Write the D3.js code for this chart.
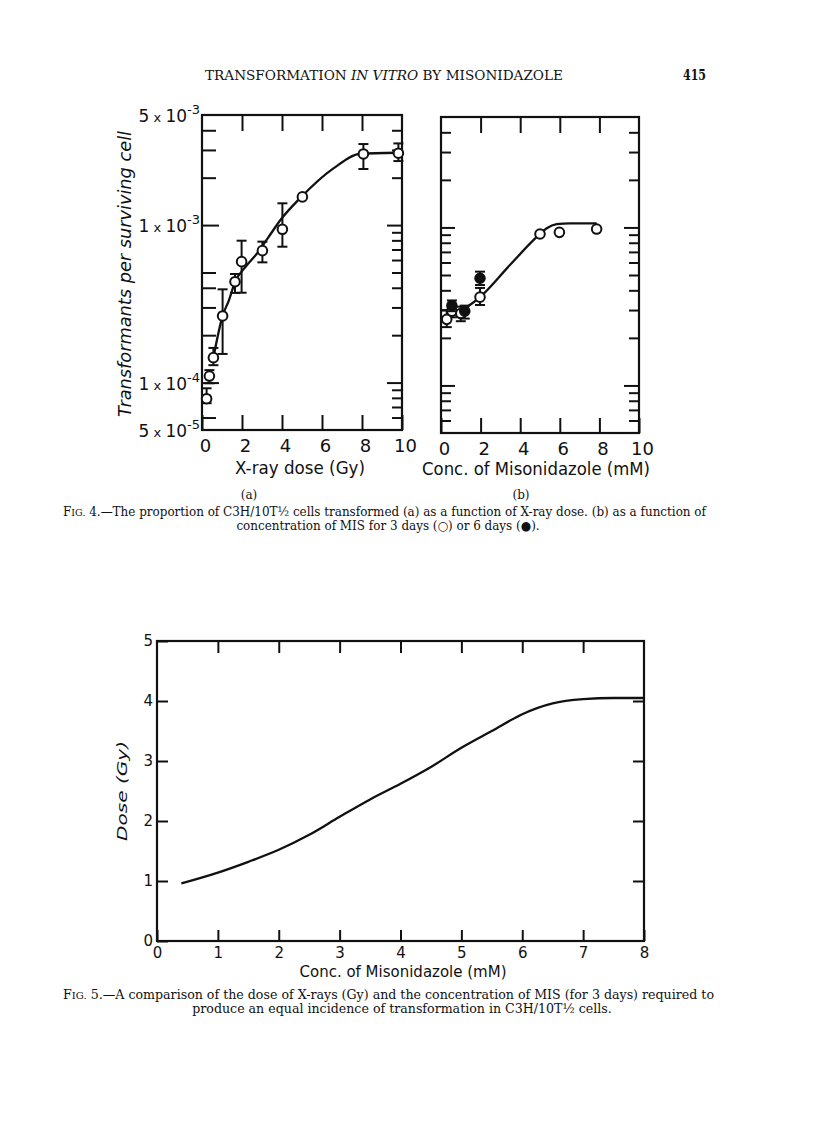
<!DOCTYPE html>
<html>
<head>
<meta charset="utf-8">
<script src="https://cdn.jsdelivr.net/npm/d3@7"></script>
<style>
  html, body { margin: 0; padding: 0; background: #fff; }
  svg { display: block; }
</style>
</head>
<body>
<svg id="page" width="816" height="1136"></svg>
<script>
// Page 415: Fig. 4 (a, b) log-scale transformation plots and Fig. 5 dose equivalence curve

// ---- Fig. 4 tick values and labels ----
const doseTickValues = [0, 2, 4, 6, 8, 10];
const innerDoseTicks = [2, 4, 6, 8];
const logLabelValues = [5e-3, 1e-3, 1e-4, 5e-5];
const logLabelMantissa = ["5", "1", "1", "5"];
const logLabelExponent = ["-3", "-3", "-4", "-5"];
const leftMinorA = [6e-5, 2e-4, 3e-4, 4e-4, 5e-4, 2e-3, 3e-3, 4e-3];
const decadeTicks = [1e-4, 1e-3];

// ---- Fig. 4a: X-ray dose (Gy) vs transformants per surviving cell ----
const xrayDose = [0.23, 0.37, 0.57, 1.03, 1.65, 1.98, 3.02, 4.02, 5.02, 8.07, 9.82];
const xrayValue = [7.9e-5, 1.10e-4, 1.44e-4, 2.65e-4, 4.37e-4, 5.86e-4, 6.88e-4, 9.4e-4, 1.51e-3, 2.83e-3, 2.86e-3];
const xrayLow = [7.4e-5, 9.9e-5, 1.29e-4, 1.52e-4, 3.71e-4, 3.72e-4, 5.8e-4, 7.29e-4, null, 2.27e-3, 2.55e-3];
const xrayHigh = [9.2e-5, 1.2e-4, 1.66e-4, 3.91e-4, 4.89e-4, 7.96e-4, 7.85e-4, 1.375e-3, null, 3.27e-3, 3.30e-3];
const xrayFitDose = [0.57, 1.03, 1.35, 1.65, 2.18, 2.75, 3.3, 3.98, 4.9, 6.57, 7.9, 9.73];
const xrayFitValue = [1.44e-4, 2.65e-4, 3.34e-4, 4.35e-4, 5.44e-4, 6.6e-4, 8.3e-4, 1.10e-3, 1.48e-3, 2.29e-3, 2.83e-3, 2.88e-3];

// ---- Fig. 4b: misonidazole (mM), 3 days (open) and 6 days (filled) ----
const mis3Conc = [0.29, 0.55, 1.0, 1.97, 5.0, 5.98, 7.86];
const mis3Value = [2.62e-4, 2.95e-4, 2.85e-4, 3.62e-4, 9.09e-4, 9.31e-4, 9.77e-4];
const mis3Low = [2.34e-4, 2.7e-4, 2.55e-4, 3.23e-4, null, null, null];
const mis3High = [3.0e-4, 3.2e-4, 3.15e-4, 4.14e-4, null, null, null];
const mis6Conc = [0.55, 1.2, 1.97];
const mis6Value = [3.2e-4, 2.95e-4, 4.77e-4];
const mis6Low = [2.95e-4, 2.65e-4, 4.32e-4];
const mis6High = [3.45e-4, 3.2e-4, 5.25e-4];
const misFitConc = [0.29, 1.97, 3.48, 5.0, 5.34, 5.84, 6.5, 7.86];
const misFitValue = [2.62e-4, 3.62e-4, 5.78e-4, 9.09e-4, 9.88e-4, 1.05e-3, 1.062e-3, 1.062e-3];

// ---- Fig. 5: equal-transformation dose vs MIS concentration ----
const fig5XTicks = [0, 1, 2, 3, 4, 5, 6, 7, 8];
const fig5YTicks = [0, 1, 2, 3, 4, 5];
const fig5Conc = [0.4, 1, 1.5, 2, 2.5, 3, 3.5, 4, 4.5, 5, 5.5, 6, 6.5, 7, 7.5, 8];
const fig5Dose = [0.96, 1.14, 1.32, 1.52, 1.77, 2.07, 2.36, 2.62, 2.9, 3.22, 3.5, 3.78, 3.96, 4.03, 4.05, 4.05];

const ink = "#111";
const sans = "'DejaVu Sans', sans-serif";
const serif = "'DejaVu Serif', serif";

const svg = d3.select("#page");

// scales
const xA = d3.scaleLinear().domain([0, 10]).range([202, 402]);
const yA = d3.scaleLog().domain([5e-5, 5e-3]).range([430, 115]);
const xB = d3.scaleLinear().domain([0, 10]).range([441, 639]);
const yB = d3.scaleLog().domain([5e-5, 5e-3]).range([433, 117]);
const x5 = d3.scaleLinear().domain([0, 8]).range([157, 644]);
const y5 = d3.scaleLinear().domain([0, 5]).range([941, 641]);

const isDecade = (v) => Math.abs(Math.log10(v) - Math.round(Math.log10(v))) < 1e-6;

// common axis cleanup
function styleAxis(g, width) {
  g.select(".domain").remove();
  g.selectAll(".tick line").attr("stroke", ink).attr("stroke-width", width || 2);
  g.selectAll(".tick text").attr("fill", ink).attr("font-family", sans);
}

function frame(x, y) {
  const [x0, x1] = x.range();
  const [y0, y1] = y.range();
  svg.append("rect")
    .attr("x", x0).attr("y", y1)
    .attr("width", x1 - x0).attr("height", y0 - y1)
    .attr("fill", "none").attr("stroke", ink).attr("stroke-width", 2.2);
}

// log panel ticks (inward), minor vs decade ticks
function logPanel(x, y, leftMinor, leftMinorLen, leftMajorLen) {
  const [x0, x1] = x.range();
  const [y0, y1] = y.range();
  const inner = y.ticks().filter((v) => v > 5.01e-5 && v < 4.99e-3);
  const minors = inner.filter((v) => !isDecade(v));

  frame(x, y);

  // bottom ticks + labels
  svg.append("g")
    .attr("transform", `translate(0,${y0})`)
    .call(d3.axisBottom(x).tickValues(doseTickValues).tickSizeInner(-15).tickSizeOuter(0).tickPadding(9))
    .call((g) => styleAxis(g))
    .call((g) => g.selectAll(".tick text").attr("font-size", 18).attr("dx", 3));
  // top ticks
  svg.append("g")
    .attr("transform", `translate(0,${y1})`)
    .call(d3.axisTop(x).tickValues(innerDoseTicks).tickSize(-16).tickFormat(""))
    .call((g) => styleAxis(g));

  // left ticks
  svg.append("g")
    .attr("transform", `translate(${x0},0)`)
    .call(d3.axisLeft(y).tickValues(leftMinor || minors).tickSize(-leftMinorLen).tickFormat(""))
    .call((g) => styleAxis(g));
  svg.append("g")
    .attr("transform", `translate(${x0},0)`)
    .call(d3.axisLeft(y).tickValues(decadeTicks).tickSize(-leftMajorLen).tickFormat(""))
    .call((g) => styleAxis(g));

  // right ticks
  svg.append("g")
    .attr("transform", `translate(${x1},0)`)
    .call(d3.axisRight(y).tickValues(minors).tickSize(-10).tickFormat(""))
    .call((g) => styleAxis(g));
  svg.append("g")
    .attr("transform", `translate(${x1},0)`)
    .call(d3.axisRight(y).tickValues(decadeTicks).tickSize(-15).tickFormat(""))
    .call((g) => styleAxis(g));
}

function fitLine(x, y, xs, ys) {
  svg.append("path")
    .datum(d3.zip(xs, ys))
    .attr("fill", "none")
    .attr("stroke", ink)
    .attr("stroke-width", 2.3)
    .attr("d", d3.line().x((d) => x(d[0])).y((d) => y(d[1])).curve(d3.curveMonotoneX));
}

function points(x, y, xs, vs, lows, highs, filled) {
  const rows = xs.map((c, i) => ({ c, v: vs[i], lo: lows[i], hi: highs[i] }));
  const bars = svg.append("g").attr("stroke", ink).attr("stroke-width", 2);
  rows.filter((d) => d.lo != null).forEach((d) => {
    const cx = x(d.c);
    bars.append("line").attr("x1", cx).attr("x2", cx).attr("y1", y(d.lo)).attr("y2", y(d.hi));
    bars.append("line").attr("x1", cx - 5).attr("x2", cx + 5).attr("y1", y(d.lo)).attr("y2", y(d.lo));
    bars.append("line").attr("x1", cx - 5).attr("x2", cx + 5).attr("y1", y(d.hi)).attr("y2", y(d.hi));
  });
  svg.append("g")
    .selectAll("circle")
    .data(rows)
    .join("circle")
    .attr("cx", (d) => x(d.c))
    .attr("cy", (d) => y(d.v))
    .attr("r", 4.8)
    .attr("fill", filled ? ink : "#fff")
    .attr("stroke", ink)
    .attr("stroke-width", 2);
}

// two-line caption: first line stretched to the text block, second centred with the same squeeze
const capFont = 12.5;
function captionText(y, parts) {
  const t = svg.append("text")
    .attr("y", y)
    .attr("font-family", serif).attr("font-size", capFont).attr("fill", ink);
  parts.forEach((p) => {
    const s = t.append("tspan").text(p.t);
    if (p.size) s.attr("font-size", p.size);
  });
  return t;
}
function caption(y1, y2, x, width, cx, parts1, parts2) {
  const a = captionText(y1, parts1).attr("x", x);
  const squeeze = width / a.node().getComputedTextLength();
  a.attr("textLength", width).attr("lengthAdjust", "spacingAndGlyphs");
  const b = captionText(y2, parts2);
  const w2 = b.node().getComputedTextLength() * squeeze;
  b.attr("x", cx - w2 / 2).attr("textLength", w2).attr("lengthAdjust", "spacingAndGlyphs");
}

// ---- running head ----
const head = svg.append("text")
  .attr("x", 205).attr("y", 79.5)
  .attr("font-family", serif).attr("font-size", 13).attr("fill", ink)
  .attr("textLength", 358).attr("lengthAdjust", "spacingAndGlyphs");
head.append("tspan").text("TRANSFORMATION ");
head.append("tspan").attr("font-style", "italic").text("IN VITRO");
head.append("tspan").text(" BY MISONIDAZOLE");
svg.append("text")
  .attr("x", 683).attr("y", 80)
  .attr("font-family", serif).attr("font-size", 14).attr("font-weight", "bold").attr("fill", ink)
  .attr("textLength", 23).attr("lengthAdjust", "spacingAndGlyphs")
  .text("415");

// ---- Fig. 4a ----
logPanel(xA, yA, leftMinorA, 14, 17);
fitLine(xA, yA, xrayFitDose, xrayFitValue);
points(xA, yA, xrayDose, xrayValue, xrayLow, xrayHigh, false);

// left tick labels  "5 x 10^-3"
logLabelValues.forEach((v, i) => {
  const t = svg.append("text")
    .attr("x", 200).attr("y", yA(v) + 7)
    .attr("text-anchor", "end")
    .attr("font-family", sans).attr("font-size", 17).attr("fill", ink);
  t.append("tspan").text(logLabelMantissa[i]);
  t.append("tspan").attr("font-size", 13).text(" x ");
  t.append("tspan").text("10");
  t.append("tspan").attr("font-size", 13).attr("dy", -8).text(logLabelExponent[i]);
});

svg.append("text")
  .attr("transform", "translate(131,274) rotate(-90)")
  .attr("text-anchor", "middle")
  .attr("font-family", sans).attr("font-size", 18).attr("font-style", "italic").attr("fill", ink)
  .attr("textLength", 286).attr("lengthAdjust", "spacingAndGlyphs")
  .text("Transformants per surviving cell");

svg.append("text")
  .attr("x", 300).attr("y", 474)
  .attr("text-anchor", "middle")
  .attr("font-family", sans).attr("font-size", 17).attr("fill", ink)
  .attr("textLength", 130).attr("lengthAdjust", "spacingAndGlyphs")
  .text("X-ray dose (Gy)");

// ---- Fig. 4b ----
logPanel(xB, yB, null, 10, 14);
fitLine(xB, yB, misFitConc, misFitValue);
points(xB, yB, mis3Conc, mis3Value, mis3Low, mis3High, false);
points(xB, yB, mis6Conc, mis6Value, mis6Low, mis6High, true);

svg.append("text")
  .attr("x", 536).attr("y", 475)
  .attr("text-anchor", "middle")
  .attr("font-family", sans).attr("font-size", 17).attr("fill", ink)
  .attr("textLength", 228).attr("lengthAdjust", "spacingAndGlyphs")
  .text("Conc. of Misonidazole (mM)");

// ---- Fig. 4 caption ----
[["(a)", 249], ["(b)", 521]].forEach(([s, cx]) => {
  svg.append("text")
    .attr("x", cx).attr("y", 499)
    .attr("text-anchor", "middle")
    .attr("font-family", serif).attr("font-size", 12).attr("fill", ink)
    .text(s);
});

caption(516, 530, 63, 643, 388,
  [{ t: "F" }, { t: "IG.", size: 10 },
   { t: " 4.—The proportion of C3H/10T½ cells transformed (a) as a function of X-ray dose. (b) as a function of" }],
  [{ t: "concentration of MIS for 3 days (○) or 6 days (●)." }]);

// ---- Fig. 5 ----
frame(x5, y5);
svg.append("g")
  .attr("transform", `translate(0,${y5.range()[0]})`)
  .call(d3.axisBottom(x5).tickValues(fig5XTicks).tickFormat(d3.format("d"))
    .tickSizeInner(-11).tickSizeOuter(0).tickPadding(6))
  .call((g) => styleAxis(g))
  .call((g) => g.selectAll(".tick text").attr("font-size", 15));
svg.append("g")
  .attr("transform", `translate(0,${y5.range()[1]})`)
  .call(d3.axisTop(x5).tickValues(fig5XTicks.slice(1, -1)).tickSize(-12).tickFormat(""))
  .call((g) => styleAxis(g));
svg.append("g")
  .attr("transform", `translate(${x5.range()[0]},0)`)
  .call(d3.axisLeft(y5).tickValues(fig5YTicks).tickFormat(d3.format("d"))
    .tickSizeInner(-11).tickSizeOuter(0).tickPadding(4))
  .call((g) => styleAxis(g))
  .call((g) => g.selectAll(".tick text").attr("font-size", 15));
svg.append("g")
  .attr("transform", `translate(${x5.range()[1]},0)`)
  .call(d3.axisRight(y5).tickValues(fig5YTicks.slice(1, -1)).tickSize(-11).tickFormat(""))
  .call((g) => styleAxis(g));

fitLine(x5, y5, fig5Conc, fig5Dose);

svg.append("text")
  .attr("x", 403).attr("y", 977)
  .attr("text-anchor", "middle")
  .attr("font-family", sans).attr("font-size", 15).attr("fill", ink)
  .attr("textLength", 207).attr("lengthAdjust", "spacingAndGlyphs")
  .text("Conc. of Misonidazole (mM)");

svg.append("text")
  .attr("transform", "translate(127,791) rotate(-90)")
  .attr("text-anchor", "middle")
  .attr("font-family", sans).attr("font-size", 14).attr("font-style", "italic").attr("fill", ink)
  .attr("textLength", 100).attr("lengthAdjust", "spacingAndGlyphs")
  .text("Dose (Gy)");

// ---- Fig. 5 caption ----
caption(999, 1013, 63, 651, 402,
  [{ t: "F" }, { t: "IG.", size: 10 },
   { t: " 5.—A comparison of the dose of X-rays (Gy) and the concentration of MIS (for 3 days) required to" }],
  [{ t: "produce an equal incidence of transformation in C3H/10T½ cells." }]);
</script>
</body>
</html>
